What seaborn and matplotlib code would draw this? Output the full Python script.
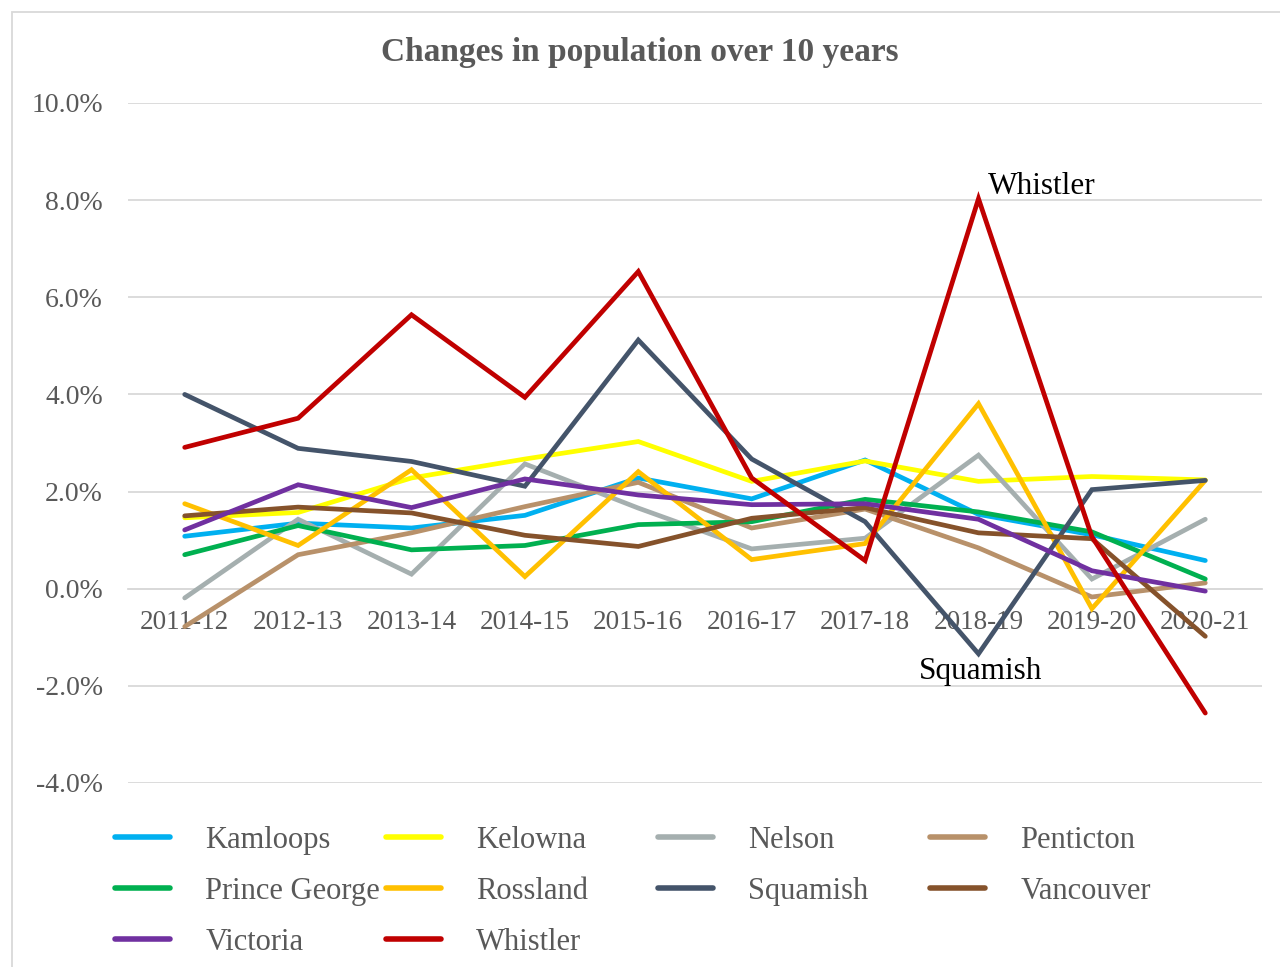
import matplotlib
matplotlib.use("Agg")
import matplotlib.pyplot as plt
import seaborn as sns
import pandas as pd
from matplotlib.patches import Rectangle
from matplotlib.lines import Line2D

years = ["2011-12", "2012-13", "2013-14", "2014-15", "2015-16",
         "2016-17", "2017-18", "2018-19", "2019-20", "2020-21"]

kamloops      = [1.08, 1.35, 1.25, 1.51, 2.28, 1.85, 2.65, 1.53, 1.11, 0.58]
kelowna       = [1.46, 1.57, 2.28, 2.67, 3.03, 2.21, 2.63, 2.21, 2.31, 2.24]
nelson        = [-0.19, 1.43, 0.30, 2.57, 1.66, 0.82, 1.04, 2.75, 0.20, 1.43]
penticton     = [-0.78, 0.70, 1.15, 1.69, 2.19, 1.25, 1.64, 0.84, -0.17, 0.12]
prince_george = [0.70, 1.30, 0.80, 0.89, 1.32, 1.38, 1.84, 1.58, 1.17, 0.20]
rossland      = [1.75, 0.89, 2.45, 0.25, 2.41, 0.60, 0.93, 3.81, -0.41, 2.23]
squamish      = [4.00, 2.89, 2.62, 2.11, 5.12, 2.67, 1.38, -1.34, 2.04, 2.23]
vancouver     = [1.50, 1.68, 1.56, 1.10, 0.87, 1.45, 1.67, 1.15, 1.03, -0.98]
victoria      = [1.21, 2.14, 1.67, 2.26, 1.93, 1.73, 1.75, 1.43, 0.37, -0.05]
whistler      = [2.91, 3.51, 5.64, 3.94, 6.53, 2.28, 0.58, 8.03, 1.07, -2.56]

cities = ["Kamloops", "Kelowna", "Nelson", "Penticton", "Prince George",
          "Rossland", "Squamish", "Vancouver", "Victoria", "Whistler"]
series = [kamloops, kelowna, nelson, penticton, prince_george,
          rossland, squamish, vancouver, victoria, whistler]
colors = ["#00B0F0", "#FFFF00", "#A5AFAF", "#B8916A", "#00B050",
          "#FFC000", "#44546A", "#85522B", "#7030A0", "#C00000"]

yticks = [-4, -2, 0, 2, 4, 6, 8, 10]
ytick_labels = ["-4.0%", "-2.0%", "0.0%", "2.0%", "4.0%", "6.0%", "8.0%", "10.0%"]

title = "Changes in population over 10 years"

rows = []
for city, vals in zip(cities, series):
    for i, (yr, v) in enumerate(zip(years, vals)):
        rows.append({"idx": i, "year": yr, "city": city, "value": v})
df = pd.DataFrame(rows)

sns.set_theme(style="white")
plt.rcParams["font.family"] = ["Liberation Serif", "DejaVu Serif"]

TXT = "#595959"
GRID = "#D9D9D9"

fig = plt.figure(figsize=(12.8, 9.67), dpi=100)
ax = fig.add_axes([128/1280, 1 - 783/967, (1262-128)/1280, (783-103)/967])

palette = dict(zip(cities, colors))
sns.lineplot(data=df, x="idx", y="value", hue="city", hue_order=cities,
             palette=palette, linewidth=3.4, ax=ax, legend=False, sort=False)
for ln in ax.lines:
    ln.set_solid_capstyle("round")
    ln.set_solid_joinstyle("miter")

ax.set_xlim(-0.5, 9.5)
ax.set_ylim(-4, 10)
ax.set_yticks(yticks)
ax.set_yticklabels(ytick_labels)
ax.set_xticks(range(len(years)))
ax.set_xticklabels(years)
ax.set_xlabel("")
ax.set_ylabel("")

ax.grid(axis="y", color=GRID, linewidth=1.3)
ax.set_axisbelow(True)
for s in ["top", "left", "right"]:
    ax.spines[s].set_visible(False)
ax.spines["bottom"].set_position(("data", 0))
ax.spines["bottom"].set_color(GRID)
ax.spines["bottom"].set_linewidth(1.3)
ax.spines["bottom"].set_zorder(0.5)
ax.tick_params(axis="y", length=0, pad=18, labelsize=20, labelcolor=TXT)
ax.tick_params(axis="x", length=0, pad=15, labelsize=19.5, labelcolor=TXT)

fig.text(0.5, 1 - 52/967, title, ha="center", va="center",
         fontsize=24, fontweight="bold", color=TXT)

ax.text(7.08, 8.29, "Whistler", ha="left", va="center", fontsize=22.5, color="black")
ax.text(7.02, -1.71, "Squamish", ha="center", va="center", fontsize=22.5, color="black")

# Legend in 4 fixed-width columns
col_x = [115, 386, 658, 930]
for c in range(4):
    idxs = [i for i in range(len(cities)) if i % 4 == c]
    handles = [Line2D([], [], color=colors[i], linewidth=4, solid_capstyle="round") for i in idxs]
    labels = [cities[i] for i in idxs]
    fig.legend(handles, labels, loc="upper left",
               bbox_to_anchor=(col_x[c]/1280, 1 - 826/967),
               frameon=False, fontsize=22, handlelength=1.8, handletextpad=1.15,
               labelspacing=0.72, borderpad=0, borderaxespad=0, labelcolor=TXT)

fig.patches.append(Rectangle((12/1280, -0.01), 1.2, 1 - 12/967 + 0.01,
                             transform=fig.transFigure, fill=False,
                             edgecolor=GRID, linewidth=1.3))

fig.savefig("out.png", dpi=100)
